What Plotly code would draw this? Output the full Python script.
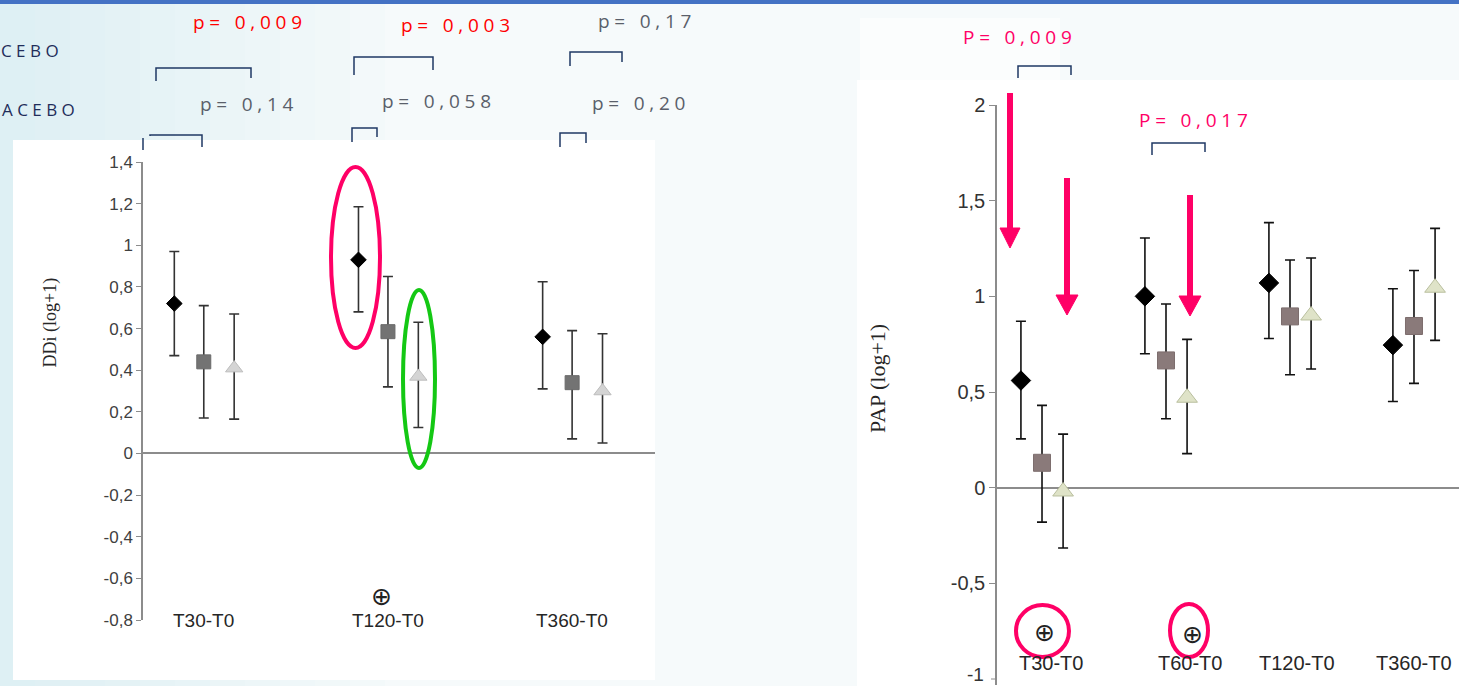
import plotly.graph_objects as go

W, H = 1459, 686

# ---------------- data ----------------
left_categories = ["T30-T0", "T120-T0", "T360-T0"]
left_yticks = [-0.8, -0.6, -0.4, -0.2, 0, 0.2, 0.4, 0.6, 0.8, 1, 1.2, 1.4]
left_yticklabels = ["-0,8", "-0,6", "-0,4", "-0,2", "0", "0,2", "0,4", "0,6", "0,8", "1", "1,2", "1,4"]

left_s1 = [0.72, 0.93, 0.56]
left_s1_hi = [0.97, 1.185, 0.825]
left_s1_lo = [0.47, 0.68, 0.31]
left_s2 = [0.44, 0.585, 0.34]
left_s2_hi = [0.71, 0.85, 0.59]
left_s2_lo = [0.17, 0.32, 0.07]
left_s3 = [0.41, 0.37, 0.30]
left_s3_hi = [0.67, 0.63, 0.575]
left_s3_lo = [0.165, 0.125, 0.05]

right_categories = ["T30-T0", "T60-T0", "T120-T0", "T360-T0"]
right_yticks = [-1, -0.5, 0, 0.5, 1, 1.5, 2]
right_yticklabels = ["-1", "-0,5", "0", "0,5", "1", "1,5", "2"]

right_s1 = [0.56, 1.00, 1.07, 0.745]
right_s1_hi = [0.87, 1.305, 1.385, 1.04]
right_s1_lo = [0.255, 0.70, 0.78, 0.45]
right_s2 = [0.13, 0.665, 0.895, 0.845]
right_s2_hi = [0.43, 0.96, 1.19, 1.135]
right_s2_lo = [-0.18, 0.36, 0.59, 0.545]
right_s3 = [-0.02, 0.47, 0.90, 1.045]
right_s3_hi = [0.28, 0.775, 1.20, 1.355]
right_s3_lo = [-0.315, 0.178, 0.62, 0.77]

p_left_top = ["p= 0,009", "p= 0,003", "p= 0,17"]
p_left_bottom = ["p= 0,14", "p= 0,058", "p= 0,20"]
p_right = ["P= 0,009", "P= 0,017"]
side_labels = ["C E B O", "A C E B O"]

# ---------------- helpers ----------------
def px(x):
    return x / W

def py(y):
    return 1 - y / H

def spaced(s):
    return "\u2005".join(s)

fig = go.Figure()

def add_series(xs_idx, offset, vals, hi, lo, xaxis, yaxis, symbol, size, color, line_color, err_color):
    fig.add_trace(go.Scatter(
        x=[i + offset for i in xs_idx], y=vals, mode="markers",
        xaxis=xaxis, yaxis=yaxis, showlegend=False, hoverinfo="skip",
        marker=dict(symbol=symbol, size=size, color=color,
                    line=dict(color=line_color, width=1)),
        error_y=dict(type="data", symmetric=False,
                     array=[h - v for h, v in zip(hi, vals)],
                     arrayminus=[v - l for v, l in zip(vals, lo)],
                     color=err_color, thickness=1.6, width=5),
    ))

li = list(range(len(left_categories)))
add_series(li, -0.16, left_s1, left_s1_hi, left_s1_lo, "x", "y", "diamond", 12, "#000000", "#000000", "#333333")
add_series(li, 0.0, left_s2, left_s2_hi, left_s2_lo, "x", "y", "square", 14, "#737373", "#6a6a6a", "#333333")
add_series(li, 0.165, left_s3, left_s3_hi, left_s3_lo, "x", "y", "triangle-up", 15, "#d4d4d4", "#bdbdbd", "#333333")

ri = list(range(len(right_categories)))
add_series(ri, -0.17, right_s1, right_s1_hi, right_s1_lo, "x2", "y2", "diamond", 15, "#000000", "#000000", "#111111")
add_series(ri, 0.0, right_s2, right_s2_hi, right_s2_lo, "x2", "y2", "square", 17, "#8a7a7a", "#7d6e6e", "#111111")
add_series(ri, 0.17, right_s3, right_s3_hi, right_s3_lo, "x2", "y2", "triangle-up", 18, "#dfe3c8", "#b9bf9e", "#111111")

axis_gray = "#8c8c8c"
r_low = -1.03
r_bottom_px = 679 + 0.03 * (679 - 105) / 3
fig.update_layout(
    width=W, height=H,
    margin=dict(l=0, r=0, t=0, b=0, autoexpand=False),
    paper_bgcolor="#f6fafb",
    plot_bgcolor="rgba(0,0,0,0)",
    xaxis=dict(domain=[px(143), px(655)], range=[-0.33, 2.45], showline=False, automargin=False,
               showgrid=False, zeroline=False, showticklabels=False, ticks=""),
    yaxis=dict(domain=[py(620), py(162)], range=[-0.8, 1.4], tickvals=left_yticks, automargin=False,
               ticktext=left_yticklabels, showline=True, linecolor=axis_gray, linewidth=1.5,
               ticks="outside", ticklen=5, tickcolor=axis_gray, showgrid=False,
               zeroline=True, zerolinecolor=axis_gray, zerolinewidth=1.5,
               tickfont=dict(family="Liberation Sans, Arial", size=17, color="#404040")),
    xaxis2=dict(domain=[px(997), 1.0], range=[-0.363, 3.363], anchor="y2", showline=False,
                automargin=False, showgrid=False, zeroline=False, showticklabels=False, ticks=""),
    yaxis2=dict(domain=[py(r_bottom_px), py(105)], range=[r_low, 2], anchor="x2", tickvals=right_yticks[1:],
                automargin=False, ticktext=right_yticklabels[1:], showline=True, linecolor=axis_gray,
                linewidth=1.5, ticks="outside", ticklen=6, tickcolor=axis_gray, showgrid=False,
                zeroline=True, zerolinecolor=axis_gray, zerolinewidth=1.5,
                tickfont=dict(family="Liberation Sans, Arial", size=20, color="#333333")),
)

shapes = []
def lerp(c1, c2, t):
    return "#%02x%02x%02x" % tuple(int(a + (b - a) * t) for a, b in zip(c1, c2))
c_left, c_right = (222, 240, 244), (246, 250, 251)
n = 12
for k in range(n):
    x0 = k * 420 / n
    x1 = (k + 1) * 420 / n
    shapes.append(dict(type="rect", xref="paper", yref="paper", x0=px(x0), x1=px(x1), y0=0, y1=1,
                       fillcolor=lerp(c_left, c_right, k / (n - 1)), line=dict(width=0), layer="below"))
shapes.append(dict(type="rect", xref="paper", yref="paper", x0=px(13), x1=px(655), y0=py(680), y1=py(140),
                   fillcolor="#ffffff", line=dict(width=0), layer="below"))
shapes.append(dict(type="rect", xref="paper", yref="paper", x0=px(857), x1=1, y0=0, y1=py(80),
                   fillcolor="#ffffff", line=dict(width=0), layer="below"))
shapes.append(dict(type="rect", xref="paper", yref="paper", x0=px(860), x1=px(1060), y0=py(80), y1=py(18),
                   fillcolor="#fbfdfd", line=dict(width=0), layer="below"))
shapes.append(dict(type="rect", xref="paper", yref="paper", x0=0, x1=1, y0=py(4), y1=1,
                   fillcolor="#4472c4", line=dict(width=0), layer="above"))
# tick mark for the lowest right tick (its label is drawn as an annotation below)
shapes.append(dict(type="line", xref="paper", yref="y2", x0=px(991), x1=px(997), y0=right_yticks[0],
                   y1=right_yticks[0], line=dict(color=axis_gray, width=1)))

def bracket(x1, yl1, x2, yl2, ytop):
    return dict(type="path", xref="paper", yref="paper",
                path=f"M {px(x1)} {py(yl1)} L {px(x1)} {py(ytop)} L {px(x2)} {py(ytop)} L {px(x2)} {py(yl2)}",
                line=dict(color="#1f3864", width=1.5))
shapes += [
    bracket(156, 81, 251, 78, 68),
    bracket(354, 75, 433, 70, 57),
    bracket(570, 66, 622, 62, 52),
    bracket(150, 136, 202, 147, 135),
    bracket(352, 142, 377, 137, 128),
    bracket(560, 147, 586, 143, 133),
    bracket(1018, 78, 1071, 75, 66),
    bracket(1152, 155, 1205, 152, 143),
]
shapes.append(dict(type="line", xref="paper", yref="paper", x0=px(143), x1=px(143), y0=py(150), y1=py(138),
                   line=dict(color="#1f3864", width=1.5)))

def ellipse(x0, x1, y0, y1, color):
    return dict(type="circle", xref="paper", yref="paper", x0=px(x0), x1=px(x1), y0=py(y1), y1=py(y0),
                line=dict(color=color, width=4))
pink = "#ff0066"
shapes += [
    ellipse(331, 380, 167, 348, pink),
    ellipse(403, 435, 290, 468, "#14c814"),
    ellipse(1016, 1069, 605, 657, pink),
    ellipse(1170, 1208, 604, 657, pink),
]

def arrow(x, ytop, yhead, ytip, hw):
    return [
        dict(type="line", xref="paper", yref="paper", x0=px(x), x1=px(x), y0=py(ytop), y1=py(yhead + 1),
             line=dict(color=pink, width=6)),
        dict(type="path", xref="paper", yref="paper",
             path=f"M {px(x - hw)} {py(yhead)} L {px(x + hw)} {py(yhead)} L {px(x)} {py(ytip)} Z",
             fillcolor=pink, line=dict(color=pink, width=1)),
    ]
shapes += arrow(1010, 93, 228, 248, 10)
shapes += arrow(1067, 178, 295, 315, 11)
shapes += arrow(1190, 195, 296, 316, 11)

fig.update_layout(shapes=shapes)

ann = []
pfont = "Open Sans, DejaVu Sans"
top_pos = [(247, 22, "#ff0000"), (455, 25, "#ff0000"), (644, 21, "#5a5f6a")]
for t, (x, y, c) in zip(p_left_top, top_pos):
    ann.append(dict(text=spaced(t), x=px(x), y=py(y), xref="paper", yref="paper", showarrow=False,
                    xanchor="center", yanchor="middle", font=dict(family=pfont, size=19, color=c)))
bot_pos = [(247, 104), (436, 101), (638, 103)]
for t, (x, y) in zip(p_left_bottom, bot_pos):
    ann.append(dict(text=spaced(t), x=px(x), y=py(y), xref="paper", yref="paper", showarrow=False,
                    xanchor="center", yanchor="middle", font=dict(family=pfont, size=19, color="#5a5f6a")))
for t, (x, y) in zip(p_right, [(1017, 37), (1193, 120)]):
    ann.append(dict(text=spaced(t), x=px(x), y=py(y), xref="paper", yref="paper", showarrow=False,
                    xanchor="center", yanchor="middle", font=dict(family=pfont, size=19, color=pink)))
for t, (x, y) in zip(side_labels, [(61, 50), (77, 110)]):
    ann.append(dict(text=t, x=px(x), y=py(y), xref="paper", yref="paper", showarrow=False,
                    xanchor="right", yanchor="middle", font=dict(family=pfont, size=17, color="#1f2d5a")))

# lowest right tick label (kept fully inside the figure edge)
ann.append(dict(text=right_yticklabels[0], x=px(986), y=right_yticks[0], xref="paper", yref="y2",
                showarrow=False, xanchor="right", yanchor="middle", yshift=5,
                font=dict(family="Liberation Sans, Arial", size=19, color="#333333")))

for i, t in enumerate(left_categories):
    ann.append(dict(text=t, x=i, y=-0.8, xref="x", yref="y", showarrow=False, xanchor="center",
                    yanchor="middle", font=dict(family="Liberation Sans, Arial", size=19, color="#262626")))
right_label_x = [0.07, 1.19, 2.06, 3.0]
for t, xl in zip(right_categories, right_label_x):
    ann.append(dict(text=t, x=xl, y=-0.914, xref="x2", yref="y2", showarrow=False, xanchor="center",
                    yanchor="middle", font=dict(family="Liberation Sans, Arial", size=20, color="#262626")))

ann.append(dict(text="DDi (log+1)", x=px(37), y=py(323), xref="paper", yref="paper", showarrow=False,
                textangle=-90, font=dict(family="Liberation Serif, Times New Roman", size=18, color="#262626")))
ann.append(dict(text="PAP (log+1)", x=px(878), y=py(378), xref="paper", yref="paper", showarrow=False,
                textangle=-90, font=dict(family="Liberation Serif, Times New Roman", size=22, color="#262626")))

for (x, y) in [(381, 596), (1044, 632), (1192, 634)]:
    ann.append(dict(text="⊕", x=px(x), y=py(y), xref="paper", yref="paper", showarrow=False,
                    xanchor="center", yanchor="middle", font=dict(family="DejaVu Sans", size=25, color="#222222")))

fig.update_layout(annotations=ann)

post = (
    "document.documentElement.style.margin='0';"
    "document.documentElement.style.padding='0';"
    "document.documentElement.style.overflow='hidden';"
    "document.body.style.margin='0';"
    "document.body.style.padding='0';"
    "document.body.style.overflow='hidden';"
    "var gd=document.getElementById('{plot_id}');"
    "gd.style.position='fixed';gd.style.left='0px';gd.style.top='0px';"
)
fig.write_html("out.html", config={"displayModeBar": False}, post_script=post)
